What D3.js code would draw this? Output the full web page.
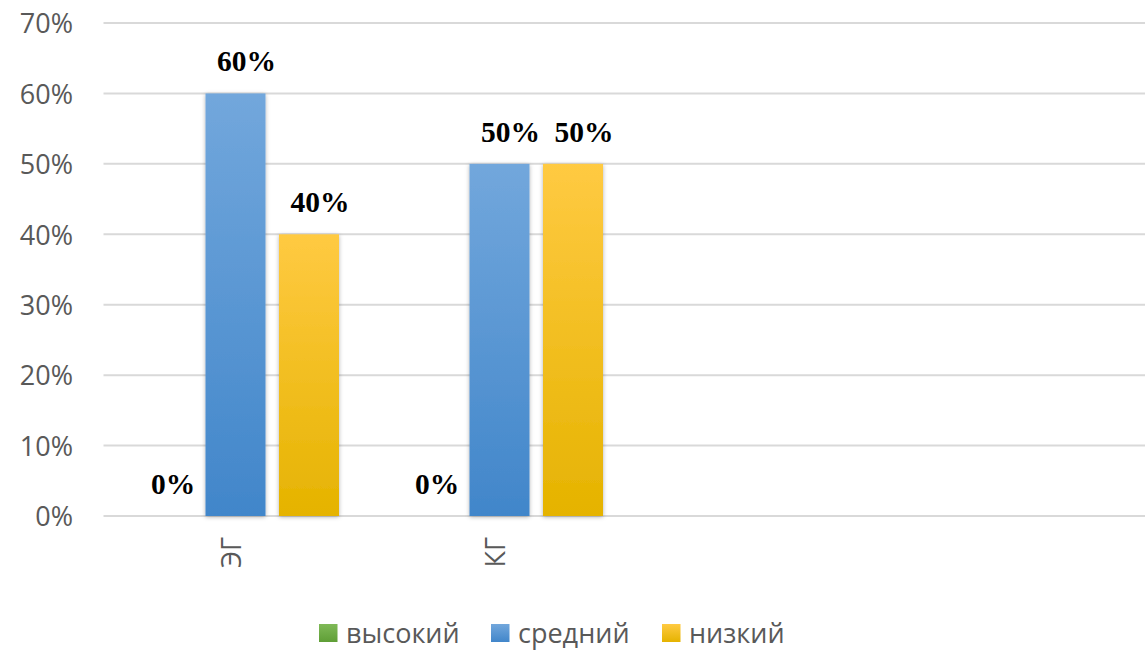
<!DOCTYPE html>
<html><head><meta charset="utf-8">
<script src="https://cdn.jsdelivr.net/npm/d3@7"></script>
<style>html,body{margin:0;padding:0;background:#fff;}svg{display:block;}</style>
</head><body>
<svg id="chart" width="1145" height="650"></svg>
<script>
const categories = ["ЭГ", "КГ"];
const seriesNames = ["высокий", "средний", "низкий"];
const valuesHigh = [0, 0];
const valuesMid = [0.6, 0.5];
const valuesLow = [0.4, 0.5];
const yTicks = [0, 0.1, 0.2, 0.3, 0.4, 0.5, 0.6, 0.7];

const seriesValues = [valuesHigh, valuesMid, valuesLow];
const colorsTop = ["#7fb957", "#72a7dc", "#ffca42"];
const colorsBot = ["#5f9e36", "#4186ca", "#e5b300"];

const svg = d3.select("#chart");
const defs = svg.append("defs");
seriesNames.forEach((s, i) => {
  const g = defs.append("linearGradient").attr("id", "grad" + i)
    .attr("x1", 0).attr("y1", 0).attr("x2", 0).attr("y2", 1);
  g.append("stop").attr("offset", "0%").attr("stop-color", colorsTop[i]);
  g.append("stop").attr("offset", "100%").attr("stop-color", colorsBot[i]);
});
const f = defs.append("filter").attr("id", "shadow")
  .attr("x", "-20%").attr("y", "-5%").attr("width", "140%").attr("height", "110%");
f.append("feDropShadow").attr("dx", 0).attr("dy", 1).attr("stdDeviation", 2.2)
  .attr("flood-color", "#000").attr("flood-opacity", 0.3);

const plotLeft = 103.5, plotRight = 1145, step = 264;
const y = d3.scaleLinear().domain([0, 0.7]).range([516, 23]);
const x0 = d3.scaleBand().domain(categories).range([plotLeft, plotLeft + step * categories.length]).padding(0);
const x1 = d3.scaleBand().domain(seriesNames).range([28.5, 235.5]).paddingInner(13.5 / 73.5).paddingOuter(0);

const fmt = d3.format(".0%");

// gridlines
svg.append("g").selectAll("line").data(yTicks).join("line")
  .attr("x1", plotLeft).attr("x2", plotRight)
  .attr("y1", d => y(d)).attr("y2", d => y(d))
  .attr("stroke", "#d9d9d9").attr("stroke-width", 2);

// y axis labels
const yAxis = d3.axisLeft(y).tickValues(yTicks).tickFormat(fmt).tickSize(0).tickPadding(0);
const ya = svg.append("g").attr("transform", "translate(73,0)").call(yAxis);
ya.select(".domain").remove();
ya.selectAll("text").attr("font-family", "'Open Sans', sans-serif").attr("font-size", 27)
  .attr("fill", "#595959").attr("dy", "0.36em");

// bars
const groups = svg.append("g").selectAll("g").data(categories).join("g")
  .attr("transform", c => `translate(${x0(c)},0)`);
groups.selectAll("rect").data((c, ci) => seriesNames.map((s, si) => ({s, si, v: seriesValues[si][ci]})))
  .join("rect")
  .attr("x", d => x1(d.s)).attr("width", x1.bandwidth())
  .attr("y", d => y(d.v)).attr("height", d => y(0) - y(d.v))
  .attr("fill", d => `url(#grad${d.si})`)
  .attr("filter", "url(#shadow)");

// data labels
groups.selectAll("text.lbl").data((c, ci) => seriesNames.map((s, si) => ({s, si, v: seriesValues[si][ci]})))
  .join("text").attr("class", "lbl")
  .attr("x", d => x1(d.s) + x1.bandwidth() / 2 + 11)
  .attr("y", d => y(d.v) - 22)
  .attr("text-anchor", "middle")
  .attr("font-family", "'Liberation Serif', 'Times New Roman', serif")
  .attr("font-weight", "bold").attr("font-size", 29.5).attr("fill", "#000")
  .text(d => fmt(d.v));

// x axis labels (rotated)
const xAxis = d3.axisBottom(x0).tickSize(0).tickPadding(0);
const xa = svg.append("g").attr("transform", "translate(0,537)").call(xAxis);
xa.select(".domain").remove();
xa.selectAll("text")
  .attr("transform", "rotate(-90)")
  .attr("x", 0).attr("y", 0).attr("dy", "0.36em")
  .attr("text-anchor", "end")
  .attr("font-family", "'Open Sans', sans-serif").attr("font-size", 27).attr("fill", "#595959");
xa.selectAll(".tick").attr("transform", d => `translate(${x0(d) + x1("средний") + x1.bandwidth() / 2 - 4},0)`);

// legend
const legend = svg.append("g").attr("transform", "translate(319,0)");
const legendX = [0, 172, 343];
seriesNames.forEach((s, i) => {
  const g = legend.append("g").attr("transform", `translate(${legendX[i]},624)`);
  g.append("rect").attr("width", 18.5).attr("height", 18).attr("fill", `url(#grad${i})`);
  g.append("text").attr("x", 27).attr("y", 9).attr("dy", "0.36em")
    .attr("font-family", "'Open Sans', sans-serif").attr("font-size", 27).attr("fill", "#595959")
    .text(s);
});
</script>
</body></html>
